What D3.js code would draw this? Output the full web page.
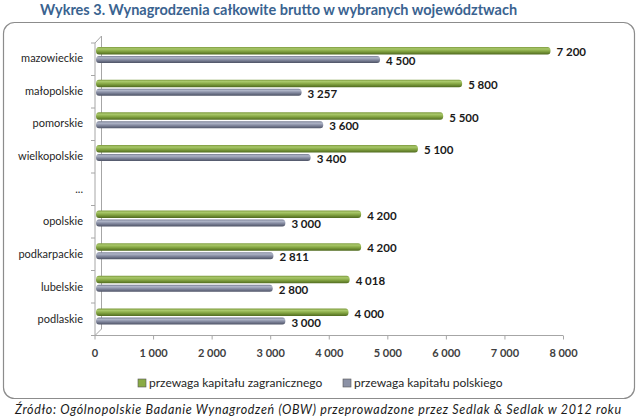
<!DOCTYPE html>
<html>
<head>
<meta charset="utf-8">
<script src="https://cdn.jsdelivr.net/npm/d3@7/dist/d3.min.js"></script>
<style>
  html, body { margin: 0; padding: 0; background: #fff; }
  svg { display: block; }
</style>
</head>
<body>
<svg id="chart" width="640" height="419"></svg>
<script>
const title = "Wykres 3. Wynagrodzenia całkowite brutto w wybranych województwach";
const categories = ["mazowieckie", "małopolskie", "pomorskie", "wielkopolskie", "...", "opolskie", "podkarpackie", "lubelskie", "podlaskie"];
const foreignValues = [7200, 5800, 5500, 5100, null, 4200, 4200, 4018, 4000];
const polishValues = [4500, 3257, 3600, 3400, null, 3000, 2811, 2800, 3000];
const seriesNames = ["przewaga kapitału zagranicznego", "przewaga kapitału polskiego"];
const xTicks = [0, 1000, 2000, 3000, 4000, 5000, 6000, 7000, 8000];
const source = "Źródło: Ogólnopolskie Badanie Wynagrodzeń (OBW) przeprowadzone przez  Sedlak & Sedlak w 2012 roku";

const FONT = "Lato, 'Open Sans', sans-serif";
const svg = d3.select("#chart");
const fmt = d3.formatLocale({decimal: ",", thousands: "\u00a0", grouping: [3], currency: ["", ""]}).format(",d");

// gradients
const defs = svg.append("defs");
function grad(id, stops) {
  const g = defs.append("linearGradient").attr("id", id).attr("x1", 0).attr("y1", 0).attr("x2", 0).attr("y2", 1);
  stops.forEach(([o, c]) => g.append("stop").attr("offset", o).attr("stop-color", c));
}
grad("gGreen", [[0, "#7d9a3e"], [0.25, "#a9c86a"], [0.55, "#87a845"], [1, "#4f6a1e"]]);
grad("gGray", [[0, "#767c92"], [0.25, "#b0b6c8"], [0.55, "#868ca2"], [1, "#4d5265"]]);
const fills = ["url(#gGreen)", "url(#gGray)"];
const legendFills = ["#8aab45", "#8c92a6"];

// frame
svg.append("rect").attr("x", 3.5).attr("y", 22.5).attr("width", 631).attr("height", 376)
  .attr("rx", 11).attr("ry", 11).attr("fill", "#fff").attr("stroke", "#8c8c8c").attr("stroke-width", 1.2);

// title
svg.append("text").attr("x", 40).attr("y", 15).attr("font-family", FONT).attr("font-size", 14.5)
  .attr("font-weight", "bold").attr("fill", "#3a6390").text(title);

// scales
const y = d3.scaleBand().domain(categories).range([41.6, 335.9]);
const xBar = d3.scaleLinear().domain([0, 8000]).range([96, 601]);
const xAxis = d3.scaleLinear().domain([0, 8000]).range([94.5, 563]);

// 3D wall lines
const wall = svg.append("g").attr("stroke", "#a6a6a6").attr("fill", "none").attr("stroke-width", 1);
wall.append("line").attr("x1", 101.5).attr("x2", 101.5).attr("y1", 36).attr("y2", 329);
wall.append("line").attr("x1", 95).attr("x2", 95).attr("y1", 43).attr("y2", 335.5);
wall.append("line").attr("x1", 95).attr("x2", 101.5).attr("y1", 43).attr("y2", 36);
wall.append("line").attr("x1", 95).attr("x2", 101.5).attr("y1", 335.5).attr("y2", 329);
// y ticks
wall.selectAll(".yt").data(d3.range(categories.length + 1)).join("line")
  .attr("x1", 91).attr("x2", 95)
  .attr("y1", i => 43 + i * (335.5 - 43) / categories.length)
  .attr("y2", i => 43 + i * (335.5 - 43) / categories.length);

// x axis
const gx = svg.append("g").attr("transform", "translate(0,335.5)")
  .call(d3.axisBottom(xAxis).tickValues(xTicks).tickSize(4).tickPadding(10).tickFormat(d => fmt(d)));
gx.select(".domain").attr("stroke", "#a6a6a6").attr("d", `M${xAxis(0)},0H${xAxis(8000)}`);
gx.selectAll(".tick line").attr("stroke", "#a6a6a6");
gx.selectAll(".tick text").attr("font-family", FONT).attr("font-size", 11).attr("font-weight", "bold").attr("fill", "#404040");

// category labels
svg.append("g").selectAll("text").data(categories).join("text")
  .attr("x", 83).attr("y", d => y(d) + y.bandwidth() / 2).attr("dy", "0.35em")
  .attr("text-anchor", "end").attr("font-family", FONT).attr("font-size", 11).attr("fill", "#262626")
  .text(d => d);

// bars
const series = [foreignValues, polishValues];
const offs = [[-11, 7.5], [-2, 7]];
series.forEach((vals, si) => {
  const data = categories.map((c, i) => ({c, v: vals[i]})).filter(d => d.v != null);
  const g = svg.append("g");
  g.selectAll("rect").data(data).join("rect")
    .attr("x", xBar(0))
    .attr("y", d => y(d.c) + y.bandwidth() / 2 + offs[si][0])
    .attr("width", d => xBar(d.v) - xBar(0))
    .attr("height", offs[si][1])
    .attr("rx", 3).attr("ry", 3.5)
    .attr("fill", fills[si]);
  g.selectAll("text").data(data).join("text")
    .attr("x", d => xBar(d.v) + 6)
    .attr("y", d => y(d.c) + y.bandwidth() / 2 + offs[si][0] + offs[si][1] / 2 + 1.5)
    .attr("dy", "0.35em")
    .attr("font-family", FONT).attr("font-size", 11.5).attr("font-weight", "bold").attr("fill", "#1a1a1a")
    .text(d => fmt(d.v));
});

// legend
const legX = [138, 343];
seriesNames.forEach((n, i) => {
  svg.append("rect").attr("x", legX[i]).attr("y", 379).attr("width", 8).attr("height", 8)
    .attr("fill", legendFills[i]).attr("stroke", "#555").attr("stroke-width", 0.6);
  svg.append("text").attr("x", legX[i] + 11).attr("y", 383).attr("dy", "0.35em")
    .attr("font-family", FONT).attr("font-size", 12).attr("fill", "#262626").text(n);
});

// source
svg.append("text").attr("x", 15).attr("y", 410).attr("dy", "0.35em")
  .attr("font-family", FONT).attr("font-size", 12.5).attr("font-style", "italic").attr("fill", "#1a1a1a")
  .attr("textLength", 606).attr("lengthAdjust", "spacing")
  .text(source);
</script>
</body>
</html>
